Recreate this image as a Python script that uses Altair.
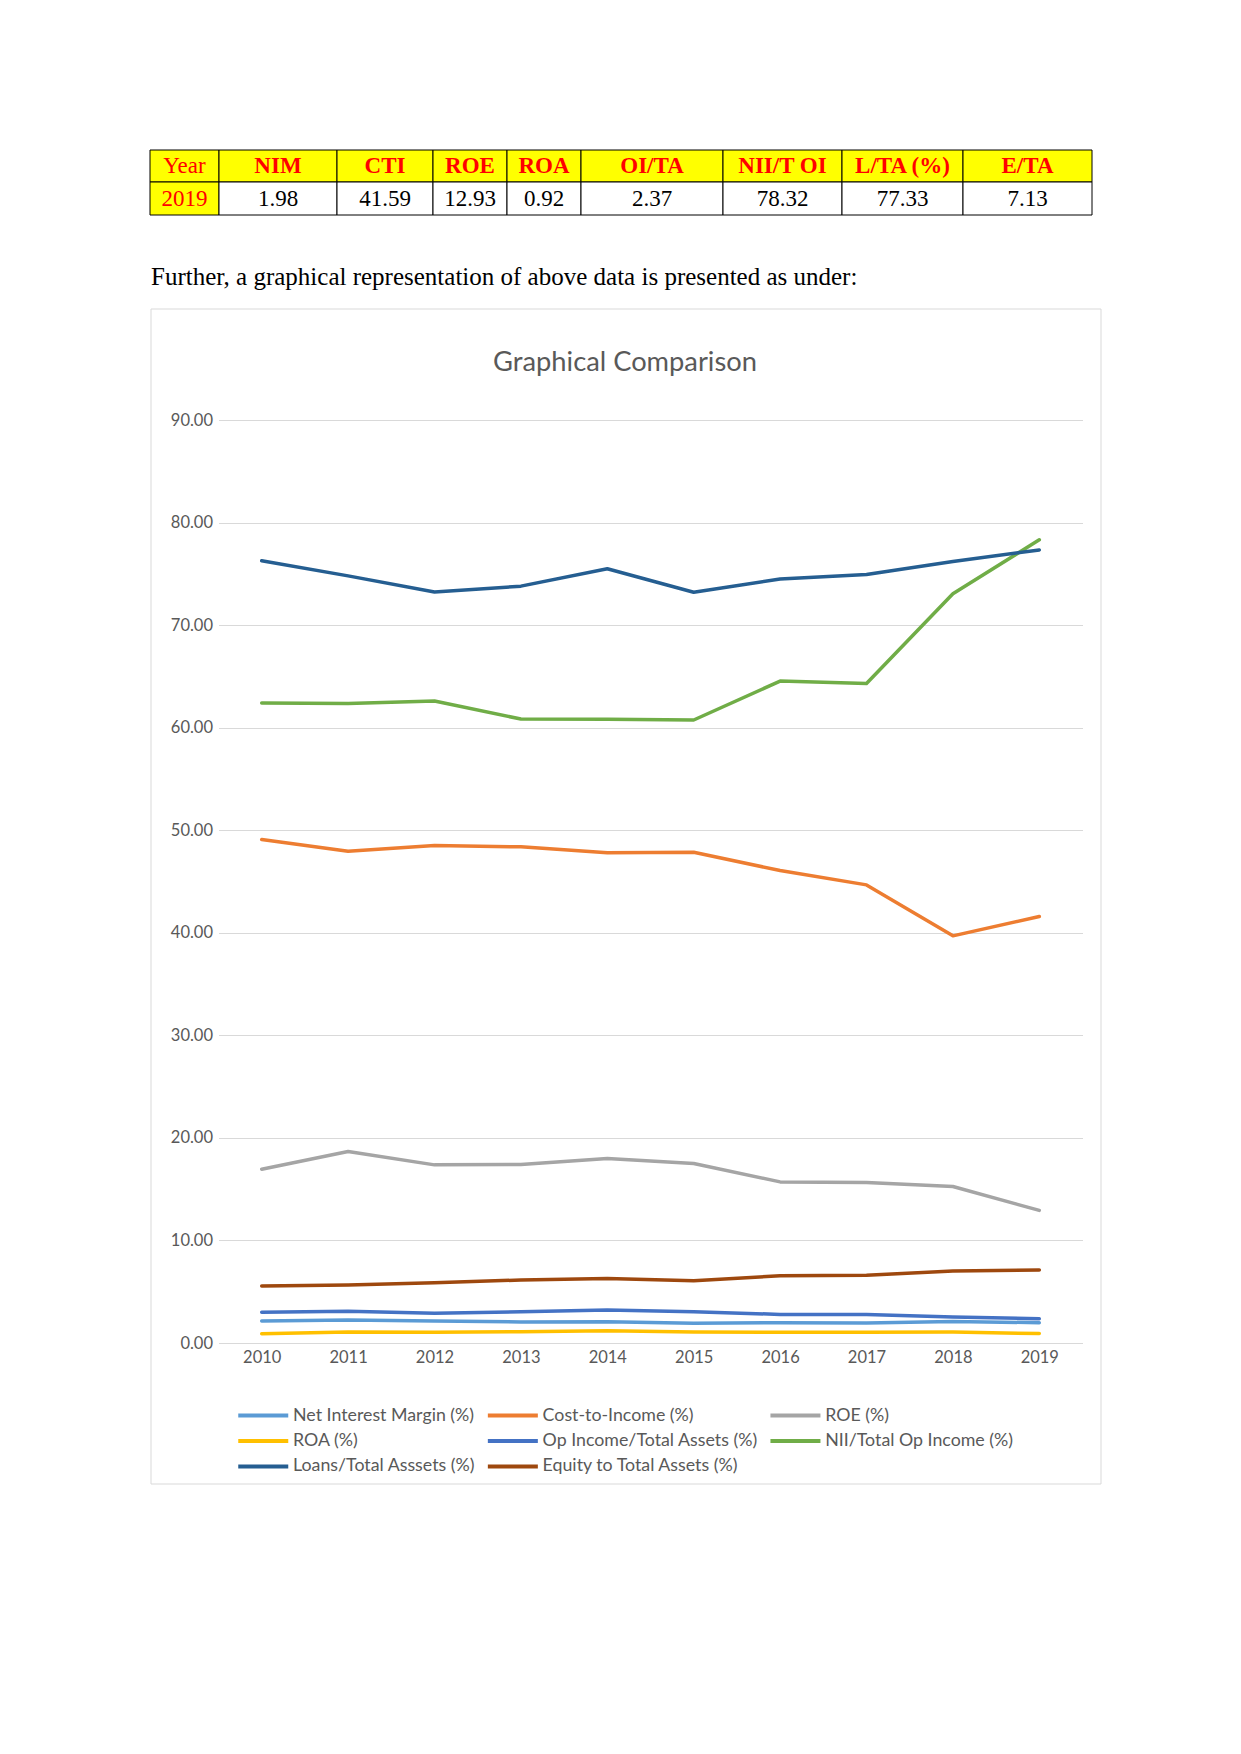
import altair as alt
import pandas as pd

# ---------------- data ----------------
tbl_headers = ["Year", "NIM", "CTI", "ROE", "ROA", "OI/TA", "NII/T OI", "L/TA (%)", "E/TA"]
tbl_values = ["2019", "1.98", "41.59", "12.93", "0.92", "2.37", "78.32", "77.33", "7.13"]

paragraph = ["Further, a graphical representation of above data is presented as under:"]
chart_title = ["Graphical Comparison"]

years = [2010, 2011, 2012, 2013, 2014, 2015, 2016, 2017, 2018, 2019]
nim = [2.14, 2.24, 2.14, 2.05, 2.08, 1.92, 1.98, 1.95, 2.10, 1.98]
cti = [49.09, 47.95, 48.50, 48.38, 47.80, 47.86, 46.07, 44.67, 39.70, 41.59]
roe = [16.95, 18.67, 17.37, 17.40, 17.99, 17.50, 15.71, 15.65, 15.26, 12.93]
roa = [0.91, 1.07, 1.04, 1.10, 1.20, 1.07, 1.04, 1.04, 1.07, 0.92]
oita = [2.99, 3.09, 2.89, 3.05, 3.22, 3.05, 2.79, 2.79, 2.53, 2.37]
nii_toi = [62.40, 62.35, 62.60, 60.84, 60.81, 60.75, 64.54, 64.30, 73.06, 78.32]
lta = [76.28, 74.80, 73.22, 73.80, 75.50, 73.20, 74.50, 74.94, 76.20, 77.33]
eta = [5.56, 5.65, 5.88, 6.14, 6.30, 6.08, 6.56, 6.60, 7.02, 7.13]

series_names = [
    "Net Interest Margin (%)", "Cost-to-Income (%)", "ROE (%)",
    "ROA (%)", "Op Income/Total Assets (%)", "NII/Total Op Income (%)",
    "Loans/Total Asssets (%)", "Equity to Total Assets (%)",
]
series_values = [nim, cti, roe, roa, oita, nii_toi, lta, eta]
series_colors = ["#5B9BD5", "#ED7D31", "#A5A5A5", "#FFC000",
                 "#4472C4", "#70AD47", "#255E91", "#9E480E"]

# ---------------- layout (styles) ----------------
PW, PH = 864, 923          # plot area of the line chart
col_widths = [69, 118, 96, 74, 74, 142, 119, 121, 129]
row_heights = [32, 33]
TW = sum(col_widths)
TH = sum(row_heights)
TX0 = -68.5                # table left edge relative to the shared origin

xe = [0]
for w in col_widths:
    xe.append(xe[-1] + w)
ye = [0]
for h in row_heights:
    ye.append(ye[-1] + h)

cells = []
for r, texts in enumerate([tbl_headers, tbl_values]):
    for c, t in enumerate(texts):
        yellow = (r == 0) or (c == 0)
        cells.append(dict(
            x0=xe[c], x1=xe[c + 1], y0=ye[r], y1=ye[r + 1],
            xm=(xe[c] + xe[c + 1]) / 2, ym=(ye[r] + ye[r + 1]) / 2,
            label=t,
            fill="#FFFF00" if yellow else "#FFFFFF",
            tcolor="#FF0000" if yellow else "#000000",
            bold=(r == 0 and c > 0),
        ))
tdf = pd.DataFrame(cells)

xs = alt.Scale(domain=[0, TW], range=[TX0, TX0 + TW], nice=False, zero=False)
ys = alt.Scale(domain=[0, TH], nice=False, zero=False, reverse=True)
tbase = alt.Chart(tdf)
t_rect = tbase.mark_rect(stroke="black", strokeWidth=1).encode(
    x=alt.X("x0:Q", scale=xs, axis=None), x2="x1:Q",
    y=alt.Y("y0:Q", scale=ys, axis=None), y2="y1:Q",
    fill=alt.Fill("fill:N", scale=None),
)
t_norm = tbase.transform_filter(alt.datum.bold == False).mark_text(
    font="Liberation Serif", fontSize=23, baseline="middle", align="center"
).encode(
    x=alt.X("xm:Q", scale=xs, axis=None), y=alt.Y("ym:Q", scale=ys, axis=None),
    text="label:N", color=alt.Color("tcolor:N", scale=None),
)
t_bold = tbase.transform_filter(alt.datum.bold == True).mark_text(
    font="Liberation Serif", fontSize=23, fontWeight="bold", baseline="middle", align="center"
).encode(
    x=alt.X("xm:Q", scale=xs, axis=None), y=alt.Y("ym:Q", scale=ys, axis=None),
    text="label:N", color=alt.Color("tcolor:N", scale=None),
)
table = alt.layer(t_rect, t_norm, t_bold).properties(width=PW, height=TH)

pchart = alt.Chart(pd.DataFrame({"t": paragraph})).mark_text(
    font="Liberation Serif", fontSize=25, align="left", baseline="middle", color="#000000"
).encode(
    x=alt.value(-67.5), y=alt.value(59.5), text="t:N"
).properties(width=PW, height=90)

# ---------------- main chart ----------------
rows = []
for name, vals in zip(series_names, series_values):
    for yr, v in zip(years, vals):
        rows.append(dict(year=str(yr), series=name, value=v))
df = pd.DataFrame(rows)

font = "Lato"
gray = "#595959"

lines = alt.Chart(df).mark_line(strokeWidth=3.5, strokeCap="round", strokeJoin="round").encode(
    x=alt.X("year:O", scale=alt.Scale(type="point", padding=0.5),
            axis=alt.Axis(title=None, labelAngle=0, ticks=False, grid=False,
                          domainColor="#D9D9D9", domainWidth=1,
                          labelFont=font, labelFontSize=16.5, labelColor=gray, labelPadding=6)),
    y=alt.Y("value:Q", scale=alt.Scale(domain=[0, 90], nice=False, zero=True),
            axis=alt.Axis(title=None, values=list(range(0, 91, 10)), format=".2f",
                          ticks=False, domain=False, grid=True, gridColor="#D9D9D9", gridWidth=1,
                          labelFont=font, labelFontSize=16.5, labelColor=gray, labelPadding=6)),
    color=alt.Color("series:N", sort=series_names,
                    scale=alt.Scale(domain=series_names, range=series_colors),
                    legend=alt.Legend(title=None, orient="none", legendX=10.85, legendY=1256.5,
                                      direction="horizontal", columns=3,
                                      symbolType="M0,0H8", symbolSize=156.25,
                                      symbolStrokeWidth=4, labelFont=font, labelFontSize=17.8,
                                      labelColor=gray, labelLimit=400, columnPadding=3.6,
                                      rowPadding=6.5, labelOffset=45.85, padding=0)),
)

frame = alt.Chart(pd.DataFrame({"k": [0]})).mark_rect(
    fill="transparent", stroke="#D9D9D9", strokeWidth=1
).encode(x=alt.value(-67.5), x2=alt.value(882.5), y=alt.value(-111), y2=alt.value(1064))

title = alt.Chart(pd.DataFrame({"t": chart_title})).mark_text(
    font=font, fontSize=27.3, color=gray, align="center", baseline="middle"
).encode(x=alt.value(406.5), y=alt.value(-57), text="t:N")

main = alt.layer(frame, title, lines).properties(width=PW, height=PH)

chart = alt.vconcat(table, pchart, main, spacing=0).properties(
    padding={"left": 140.5, "top": 141, "right": 0, "bottom": 0}
).configure_view(stroke="transparent")

chart.save("out.html", embed_options={"renderer": "svg", "actions": False})
